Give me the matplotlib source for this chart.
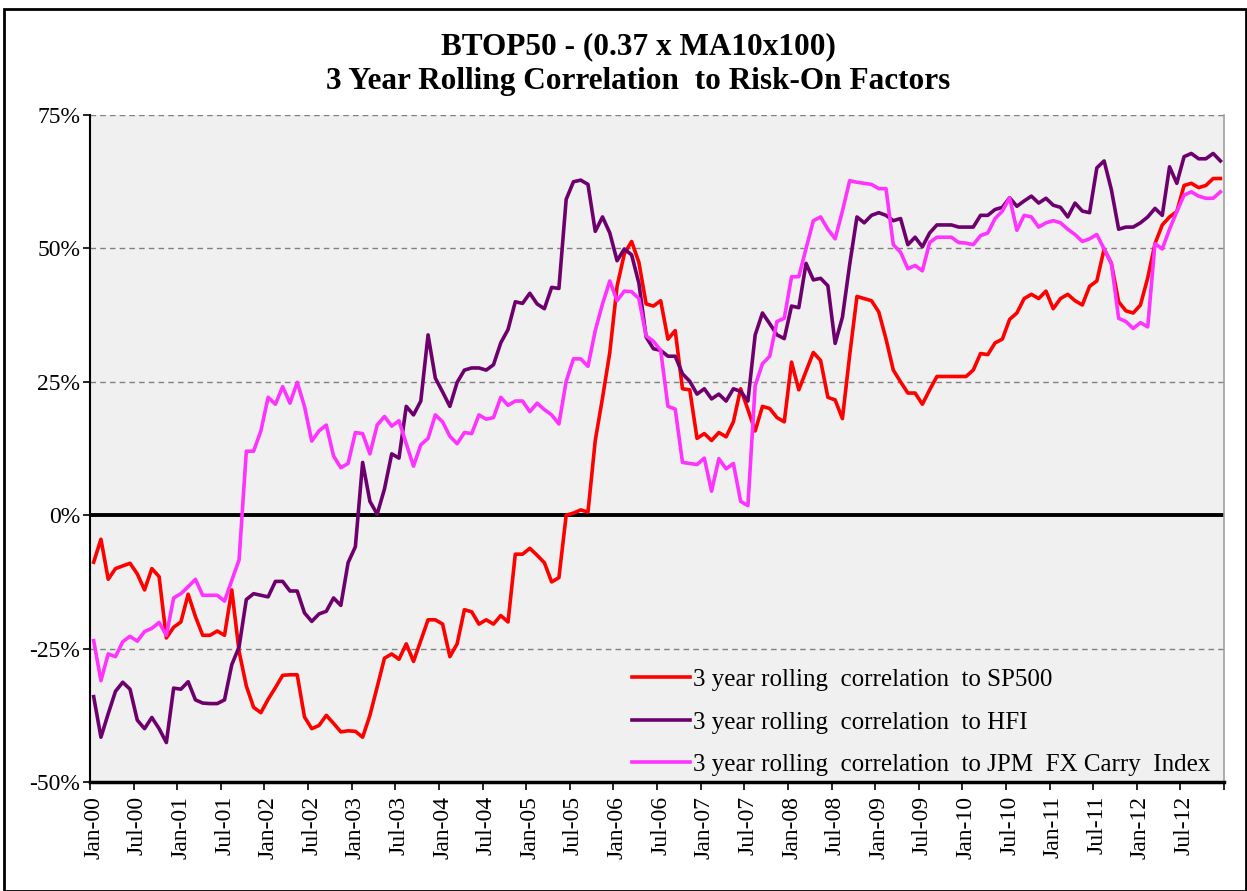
import matplotlib
matplotlib.use("Agg")
from matplotlib import pyplot as plt
from matplotlib.patches import Rectangle
import numpy as np
import pandas as pd

# Monthly dates, Jan-00 .. Dec-12
months = pd.date_range("2000-01-01", periods=156, freq="MS").strftime("%b-%y").tolist()

# 3 year rolling correlation to SP500 (%)
sp500 = [
    -8.8, -4.5, -12, -10, -9.5, -9, -11, -14, -10, -11.5, -23, -21,
    -20, -14.8, -19, -22.5, -22.5, -21.7, -22.5, -14, -25.5, -32, -36, -37,
    -34.5, -32.3, -30, -29.9, -29.9, -37.8, -40, -39.4, -37.5, -39, -40.6, -40.4,
    -40.5, -41.6, -37.5, -32.2, -26.8, -26, -27, -24.1, -27.4, -23.5, -19.6, -19.6,
    -20.4, -26.5, -24.1, -17.7, -18.1, -20.4, -19.6, -20.4, -18.8, -20, -7.3, -7.3,
    -6.2, -7.5, -8.9, -12.5, -11.7, 0, 0.4, 1, 0.6, 14, 22, 30.5,
    42.9, 49, 51.3, 47.4, 39.6, 39.2, 40.2, 33, 34.6, 23.7, 23.5, 14.4,
    15.3, 14, 15.5, 14.7, 17.5, 23.7, 19.8, 15.8, 20.4, 20, 18.3, 17.5,
    28.7, 23.5, 27, 30.5, 29, 22.1, 21.6, 18.1, 30, 41, 40.6, 40.2,
    38.1, 33, 27.2, 25, 22.9, 22.9, 20.8, 23.5, 26, 26, 26, 26,
    26, 27.2, 30.3, 30.1, 32.3, 33, 36.7, 37.9, 40.6, 41.4, 40.6, 42,
    38.7, 40.6, 41.4, 40.2, 39.4, 42.9, 43.9, 49.9, 47.2, 40, 38.3, 37.9,
    39.4, 44.5, 50.9, 54.4, 55.9, 56.9, 61.8, 62.2, 61.4, 61.8, 63.1, 63.1,
]

# 3 year rolling correlation to HFI (%)
hfi = [
    -34, -41.6, -37.2, -33, -31.3, -32.6, -38.4, -40, -37.9, -40, -42.6, -32.4,
    -32.6, -31.2, -34.6, -35.2, -35.3, -35.3, -34.6, -28, -24.7, -15.8, -14.7, -15,
    -15.3, -12.4, -12.4, -14.2, -14.2, -18.3, -19.9, -18.5, -18, -15.5, -16.9, -8.9,
    -5.9, 9.9, 2.6, 0.2, 4.9, 11.5, 10.7, 20.4, 18.8, 21.4, 33.8, 25.7,
    23.1, 20.4, 24.9, 27.2, 27.6, 27.6, 27.2, 28.2, 32.3, 34.8, 40, 39.7,
    41.6, 39.6, 38.7, 42.7, 42.5, 59.2, 62.5, 62.8, 62, 53.2, 55.9, 52.9,
    47.7, 49.9, 48.8, 43.5, 33.4, 31.2, 30.9, 29.8, 29.8, 26.5, 25.1, 22.7,
    23.7, 21.8, 22.7, 21.4, 23.7, 23.2, 21.4, 33.8, 37.9, 35.9, 33.8, 33.1,
    39.2, 38.9, 47.2, 44.1, 44.4, 43, 32.2, 37.1, 47, 55.9, 54.8, 56.2,
    56.7, 56.2, 55.2, 55.6, 50.7, 52.1, 50.3, 52.9, 54.4, 54.4, 54.4, 54,
    54, 54, 56.2, 56.2, 57.3, 57.7, 59.5, 57.9, 58.9, 59.8, 58.5, 59.4,
    58.1, 57.7, 55.9, 58.5, 57, 56.7, 65.1, 66.4, 61, 53.6, 54, 54,
    54.8, 55.9, 57.5, 56.2, 65.3, 62.2, 67.2, 67.8, 66.8, 66.8, 67.8, 66.4,
]

# 3 year rolling correlation to JPM FX Carry Index (%)
fx_carry = [
    -23.5, -31, -26, -26.5, -23.7, -22.7, -23.6, -21.8, -21.2, -20.1, -22.5, -15.5,
    -14.7, -13.4, -12, -15, -15, -15, -16.1, -12.2, -8.4, 12, 12, 15.8,
    22.1, 20.8, 24.1, 21, 24.9, 20.4, 13.9, 15.8, 16.9, 11.1, 8.9, 9.7,
    15.5, 15.3, 11.5, 16.9, 18.5, 16.7, 17.7, 13.4, 9.2, 13.2, 14.4, 18.8,
    17.5, 14.8, 13.4, 15.5, 15.3, 18.8, 18, 18.3, 22.1, 20.6, 21.4, 21.4,
    19.4, 21, 19.8, 18.8, 17.1, 25.1, 29.3, 29.3, 27.9, 34.6, 39.6, 43.9,
    40.2, 42, 41.9, 40.6, 33.6, 32.6, 30.9, 20.4, 19.9, 9.9, 9.7, 9.5,
    10.7, 4.5, 10.6, 8.7, 9.7, 2.6, 1.8, 24.3, 28.4, 29.8, 36.3, 36.9,
    44.7, 44.7, 50, 55.2, 55.9, 53.6, 51.8, 57, 62.7, 62.4, 62.2, 62,
    61.2, 61.2, 50.7, 49.3, 46.2, 46.8, 45.8, 51.1, 52.1, 52.1, 52.1, 51.1,
    51, 50.7, 52.4, 52.9, 55.6, 57, 59.5, 53.4, 56.2, 55.9, 54, 54.8,
    55.2, 54.8, 53.6, 52.6, 51.3, 51.8, 52.6, 49.9, 47.2, 36.9, 36.3, 35,
    36.1, 35.3, 50.9, 49.9, 53.6, 56.9, 60, 60.6, 59.8, 59.4, 59.4, 60.6,
]

plt.rcParams['font.family'] = ['Liberation Serif', 'DejaVu Serif']

fig = plt.figure(figsize=(12.47, 8.91), dpi=100)
ax = fig.add_axes([0.0722, 0.1223, 0.9094, 0.7486])
ax.set_facecolor('#f0f0f0')

x = np.arange(len(months))
ax.plot(x, sp500, color='#ff0000', lw=2.6, label='3 year rolling  correlation  to SP500', zorder=3)
ax.plot(x, hfi, color='#6e006e', lw=2.6, label='3 year rolling  correlation  to HFI', zorder=3)
ax.plot(x, fx_carry, color='#ff33ff', lw=2.6, label='3 year rolling  correlation  to JPM  FX Carry  Index', zorder=3)

ax.set_xlim(-0.5, len(months) - 0.5)
ax.set_ylim(-50, 75)

# gridlines
for v in [75, 50, 25, -25]:
    ax.axhline(v, color='#808080', lw=1.0, ls=(0, (4, 3)), zorder=1)
ax.axhline(0, color='black', lw=2.8, zorder=2)

yt = [-50, -25, 0, 25, 50, 75]
ax.set_yticks(yt)
ax.set_yticklabels(['%d%%' % v for v in yt], fontsize=17)

ax.set_xticks(np.arange(-0.5, len(months), 6))
ax.set_xticklabels([])
ax.set_xticks(np.arange(0, len(months), 6), minor=True)
ax.set_xticklabels([months[i] for i in range(0, len(months), 6)], minor=True,
                   rotation=90, fontsize=17)
ax.tick_params(axis='x', which='major', direction='out', length=6, width=1.2)
ax.tick_params(axis='x', which='minor', length=0, pad=10)
ax.tick_params(axis='y', direction='out', length=5, width=1.2, pad=2)

ax.spines['left'].set_linewidth(1.5)
ax.spines['bottom'].set_linewidth(2.5)
ax.spines['top'].set_visible(False)
ax.spines['right'].set_color('#a0a0a0')
ax.spines['right'].set_linewidth(1.2)

fig.text(0.512, 0.948, 'BTOP50 - (0.37 x MA10x100)', ha='center', va='center',
         fontsize=22.5, fontweight='bold')
fig.text(0.512, 0.909, '3 Year Rolling Correlation  to Risk-On Factors', ha='center',
         va='center', fontsize=22.5, fontweight='bold')

leg = ax.legend(loc='lower right', bbox_to_anchor=(1.008, -0.025), frameon=False,
                fontsize=18, handlelength=2.3, labelspacing=0.8, handletextpad=0.15)

fig.patches.append(Rectangle((0.003, 0.0), 0.996, 0.99, transform=fig.transFigure,
                             fill=False, edgecolor='black', lw=2.0))

fig.savefig('out.png', dpi=100)
